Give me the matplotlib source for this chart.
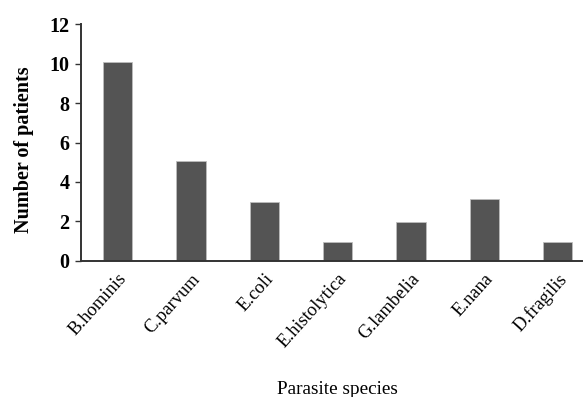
import matplotlib
matplotlib.use("Agg")
import matplotlib.pyplot as plt
import numpy as np

# parasite species and patient counts
species = ["B.hominis", "C.parvum", "E.coli", "E.histolytica",
           "G.lambelia", "E.nana", "D.fragilis"]
patients = [10.1, 5.05, 3.0, 0.95, 1.95, 3.15, 0.95]
yticks = [0, 2, 4, 6, 8, 10, 12]

plt.rcParams['font.family'] = ['Liberation Serif', 'DejaVu Serif']

fig = plt.figure(figsize=(5.87, 3.97), dpi=100)
ax = fig.add_axes([0.138, 0.343, 0.853, 0.596])

x = np.arange(len(species))
ax.bar(x, patients, width=0.4, color='#545454', edgecolor='#bdbdbd', linewidth=0.6, zorder=2)

ax.set_xlim(-0.5, 6.33)
ax.set_ylim(0, 12)
ax.set_yticks(yticks)
ax.set_yticklabels([str(v) for v in yticks], fontweight='bold', fontsize=14.5)
ax.set_xticks(x)
ax.set_xticklabels(species, rotation=48, ha='right', rotation_mode='anchor', fontsize=13.3)
ax.tick_params(axis='x', length=0, pad=7)
ax.tick_params(axis='y', length=4, width=1, color='#333333', pad=4.3)

for s in ['top', 'right']:
    ax.spines[s].set_visible(False)
for s in ['left', 'bottom']:
    ax.spines[s].set_color('#333333')
    ax.spines[s].set_linewidth(1.4)

ax.set_ylabel('Number of patients', fontweight='bold', fontsize=14.5)
ax.yaxis.set_label_coords(-0.094, 0.47)
fig.text(0.574, 0.008, 'Parasite species', ha='center', va='baseline', fontsize=13.9)

fig.savefig('out.png', dpi=100)
